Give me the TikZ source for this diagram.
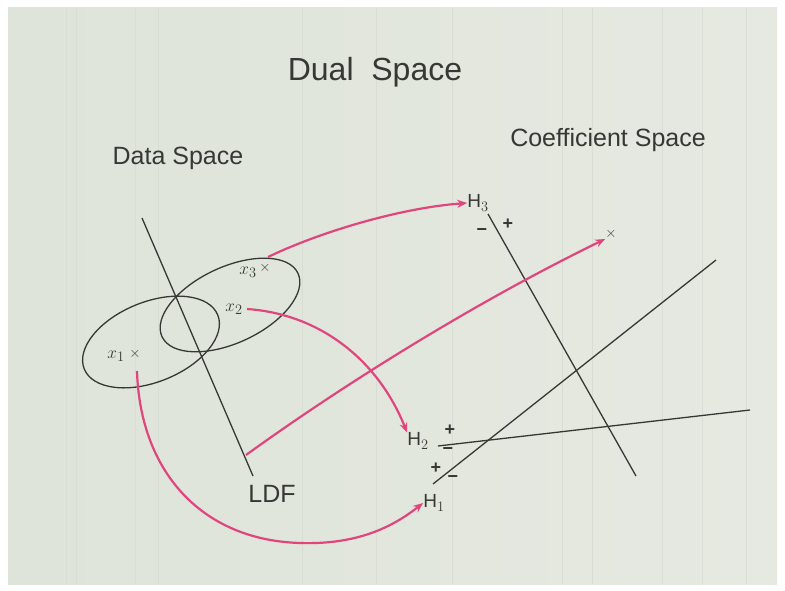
\documentclass[tikz,border=0pt]{standalone}
\usepackage{fontspec}
\setmainfont{Liberation Sans}
\usetikzlibrary{arrows.meta}
\definecolor{paperL}{HTML}{DEE4DA}
\definecolor{paperM}{HTML}{EDF0EA}
\definecolor{paperR}{HTML}{E6E9E1}
\definecolor{rule}{HTML}{D8DED5}
\definecolor{ink}{HTML}{353835}
\definecolor{pinkline}{HTML}{E0457E}
\begin{document}
\begin{tikzpicture}[x=1pt,y=-1pt,
  inkline/.style={draw=ink, line width=1.3pt},
  pinkarrow/.style={draw=pinkline, line width=2.2pt, -{Stealth[length=10pt,width=8pt]}},
  title/.style={text=ink, font=\fontsize{32}{34}\selectfont, inner sep=0pt},
  head/.style={text=ink, font=\fontsize{25}{27}\selectfont, inner sep=0pt},
  lbl/.style={text=ink, font=\fontsize{19}{21}\selectfont, inner sep=0pt},
  mk/.style={text=ink, font=\fontsize{15}{17}\selectfont, inner sep=0pt},
  sgn/.style={text=ink, font=\fontsize{18}{20}\selectfont\bfseries, inner sep=0pt}]
\useasboundingbox (0,0) rectangle (785,591);
\fill[white] (0,0) rectangle (785,591);
\shade[left color=paperL, middle color=paperM, right color=paperR] (8,8) rectangle (777,584);
\foreach \xx in {66,76,135,158,302,376,452,562,592,662,702,746}
  \draw[rule, line width=0.6pt] (\xx,8) -- (\xx,584);

% texts
\node[title] (t) at (375,72) {Dual\ \ Space};
\node[head] (ds) at (178,158) {Data Space};
\node[head] (cs) at (608,140) {Coefficient Space};

% data space
\draw[inkline, rotate around={22:(151,342)}] (151,342) ellipse [x radius=72, y radius=40];
\draw[inkline, rotate around={25:(230,305)}] (230,305) ellipse [x radius=75, y radius=38];
\coordinate (l1) at (142,218);
\coordinate (l2) at (253,476);
\draw[inkline] (l1) -- (l2);
\coordinate (ldfs) at (246,455);
\node[head] (ldf) at (272,494) {LDF};

\node[lbl] (x3) at (248,272) {$x_3$};
\node[mk] (x3m) at (265,268) {$\times$};
\node[lbl] (x2) at (234,309) {$x_2$};
\node[lbl] (x1) at (116,356) {$x_1$};
\node[mk] (x1m) at (135,354) {$\times$};

% coefficient space
\node[lbl] (H3) at (478,203) {H$_3$};
\node[lbl] (H2) at (418,441) {H$_2$};
\node[lbl] (H1) at (434,503) {H$_1$};
\node[mk] (xp) at (611,234) {$\times$};

\coordinate (a1) at (488,214); \coordinate (a2) at (636,476);
\coordinate (b1) at (433,484); \coordinate (b2) at (716,260);
\coordinate (c1) at (438,446); \coordinate (c2) at (750,410);
\draw[inkline] (a1) -- (a2);
\draw[inkline] (b1) -- (b2);
\draw[inkline] (c1) -- (c2);

\node[sgn] (s3m) at (482,232) {−};
\node[sgn] (s3p) at (508,224) {+};
\node[sgn] (s2p) at (450,430) {+};
\node[sgn] (s2m) at (448,451) {−};
\node[sgn] (s1p) at (436,468) {+};
\node[sgn] (s1m) at (453,479) {−};

% pink mapping arrows
\coordinate (x3s) at (268,257);
\coordinate (x2s) at (247,309);
\coordinate (x1s) at (137,371);
\draw[pinkarrow] (x3s) .. controls (320,232) and (400,208) .. (H3.west);
\draw[pinkarrow] (x2s) .. controls (320,314) and (378,360) .. (H2.north west);
\draw[pinkarrow] (x1s) .. controls (140,470) and (200,540) .. (300,543)
                 .. controls (360,545) and (395,525) .. (H1.west);
\draw[pinkarrow] (ldfs) .. controls (350,380) and (480,300) .. (xp.south west);
\end{tikzpicture}
\end{document}
